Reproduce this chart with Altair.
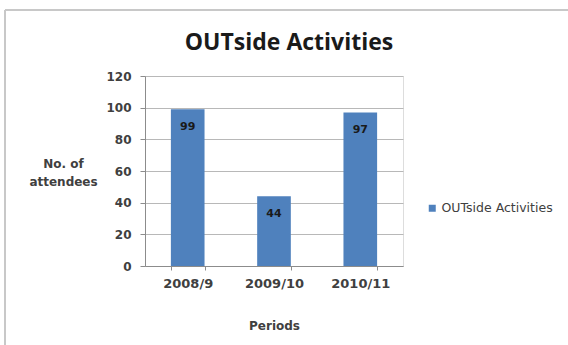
import altair as alt
import pandas as pd

# Attendance figures per reporting period
periods = ["2008/9", "2009/10", "2010/11"]
attendees = [99, 44, 97]
series_name = "OUTside Activities"
y_ticks = [0, 20, 40, 60, 80, 100, 120]

df = pd.DataFrame({
    "Period": periods,
    "Attendees": attendees,
    "Series": [series_name] * len(periods),
})

TITLE_FONT = "Open Sans"
FONT = "DejaVu Sans"
BLUE = "#4F81BD"
TEXT = "#404040"
AXIS_GRAY = "#8c8c8c"

x_enc = alt.X(
    "Period:N",
    sort=periods,
    scale=alt.Scale(paddingInner=0.61, paddingOuter=0.3),
    axis=alt.Axis(
        title="Periods",
        titleFont=FONT, titleFontSize=12, titleFontWeight="bold", titleColor=TEXT,
        titleY=63, titleBaseline="alphabetic", titleAnchor="middle",
        labelFont=FONT, labelFontSize=13, labelFontWeight="bold", labelColor=TEXT,
        labelAngle=0, labelPadding=7,
        domainColor=AXIS_GRAY, tickColor=AXIS_GRAY, tickSize=4, tickBand="extent",
        grid=False,
    ),
)

y_enc = alt.Y(
    "Attendees:Q",
    scale=alt.Scale(domain=[0, 120], nice=False),
    axis=alt.Axis(
        values=y_ticks,
        tickCount=20,
        labelOverlap=False,
        title=["No. of", "attendees"],
        titleFont=FONT, titleFontSize=12, titleFontWeight="bold", titleColor=TEXT,
        titleAngle=0, titleAlign="center", titleBaseline="alphabetic",
        titleX=-82, titleY=91, titleLineHeight=18,
        labelFont=FONT, labelFontSize=12, labelFontWeight="bold", labelColor=TEXT,
        labelPadding=9, tickSize=5, tickColor=AXIS_GRAY,
        domain=True, domainColor=AXIS_GRAY,
        gridColor="#b8b8b8", gridWidth=1,
    ),
)

bars = alt.Chart(df).mark_bar().encode(
    x=x_enc,
    y=y_enc,
    color=alt.Color(
        "Series:N",
        scale=alt.Scale(domain=[series_name], range=[BLUE]),
        legend=alt.Legend(
            title=None, orient="none", legendX=281, legendY=126,
            symbolType="square", symbolSize=49, symbolStrokeWidth=0,
            labelFont=FONT, labelFontSize=12.5, labelColor=TEXT, labelOffset=3,
        ),
    ),
)

labels = alt.Chart(df).mark_text(
    baseline="middle", dy=18, font=FONT, fontSize=11, fontWeight="bold", color="#1a1a1a"
).encode(
    x=alt.X("Period:N", sort=periods),
    y="Attendees:Q",
    text="Attendees:Q",
)

# Outer frame of the chart area (top and left edges)
frame_top = alt.Chart(df).mark_rule(color="#c8c8c8", strokeWidth=2).encode(
    x=alt.value(-140), x2=alt.value(423), y=alt.value(-66)
)
frame_left = alt.Chart(df).mark_rule(color="#c8c8c8", strokeWidth=2).encode(
    x=alt.value(-140), y=alt.value(-66), y2=alt.value(275)
)

chart = alt.layer(frame_top, frame_left, bars, labels).properties(
    width=258,
    height=190,
    title=alt.TitleParams(
        "OUTside Activities", font=TITLE_FONT, fontSize=23, fontWeight="bold",
        color="#1a1a1a", anchor="middle", baseline="alphabetic", dx=15, offset=-64,
    ),
    autosize=alt.AutoSizeParams(type="none"),
    padding={"left": 145, "top": 76, "right": 165, "bottom": 79},
).configure_view(stroke=None).configure(background="white")

chart.save("out.html", embed_options={"renderer": "svg", "actions": False})
